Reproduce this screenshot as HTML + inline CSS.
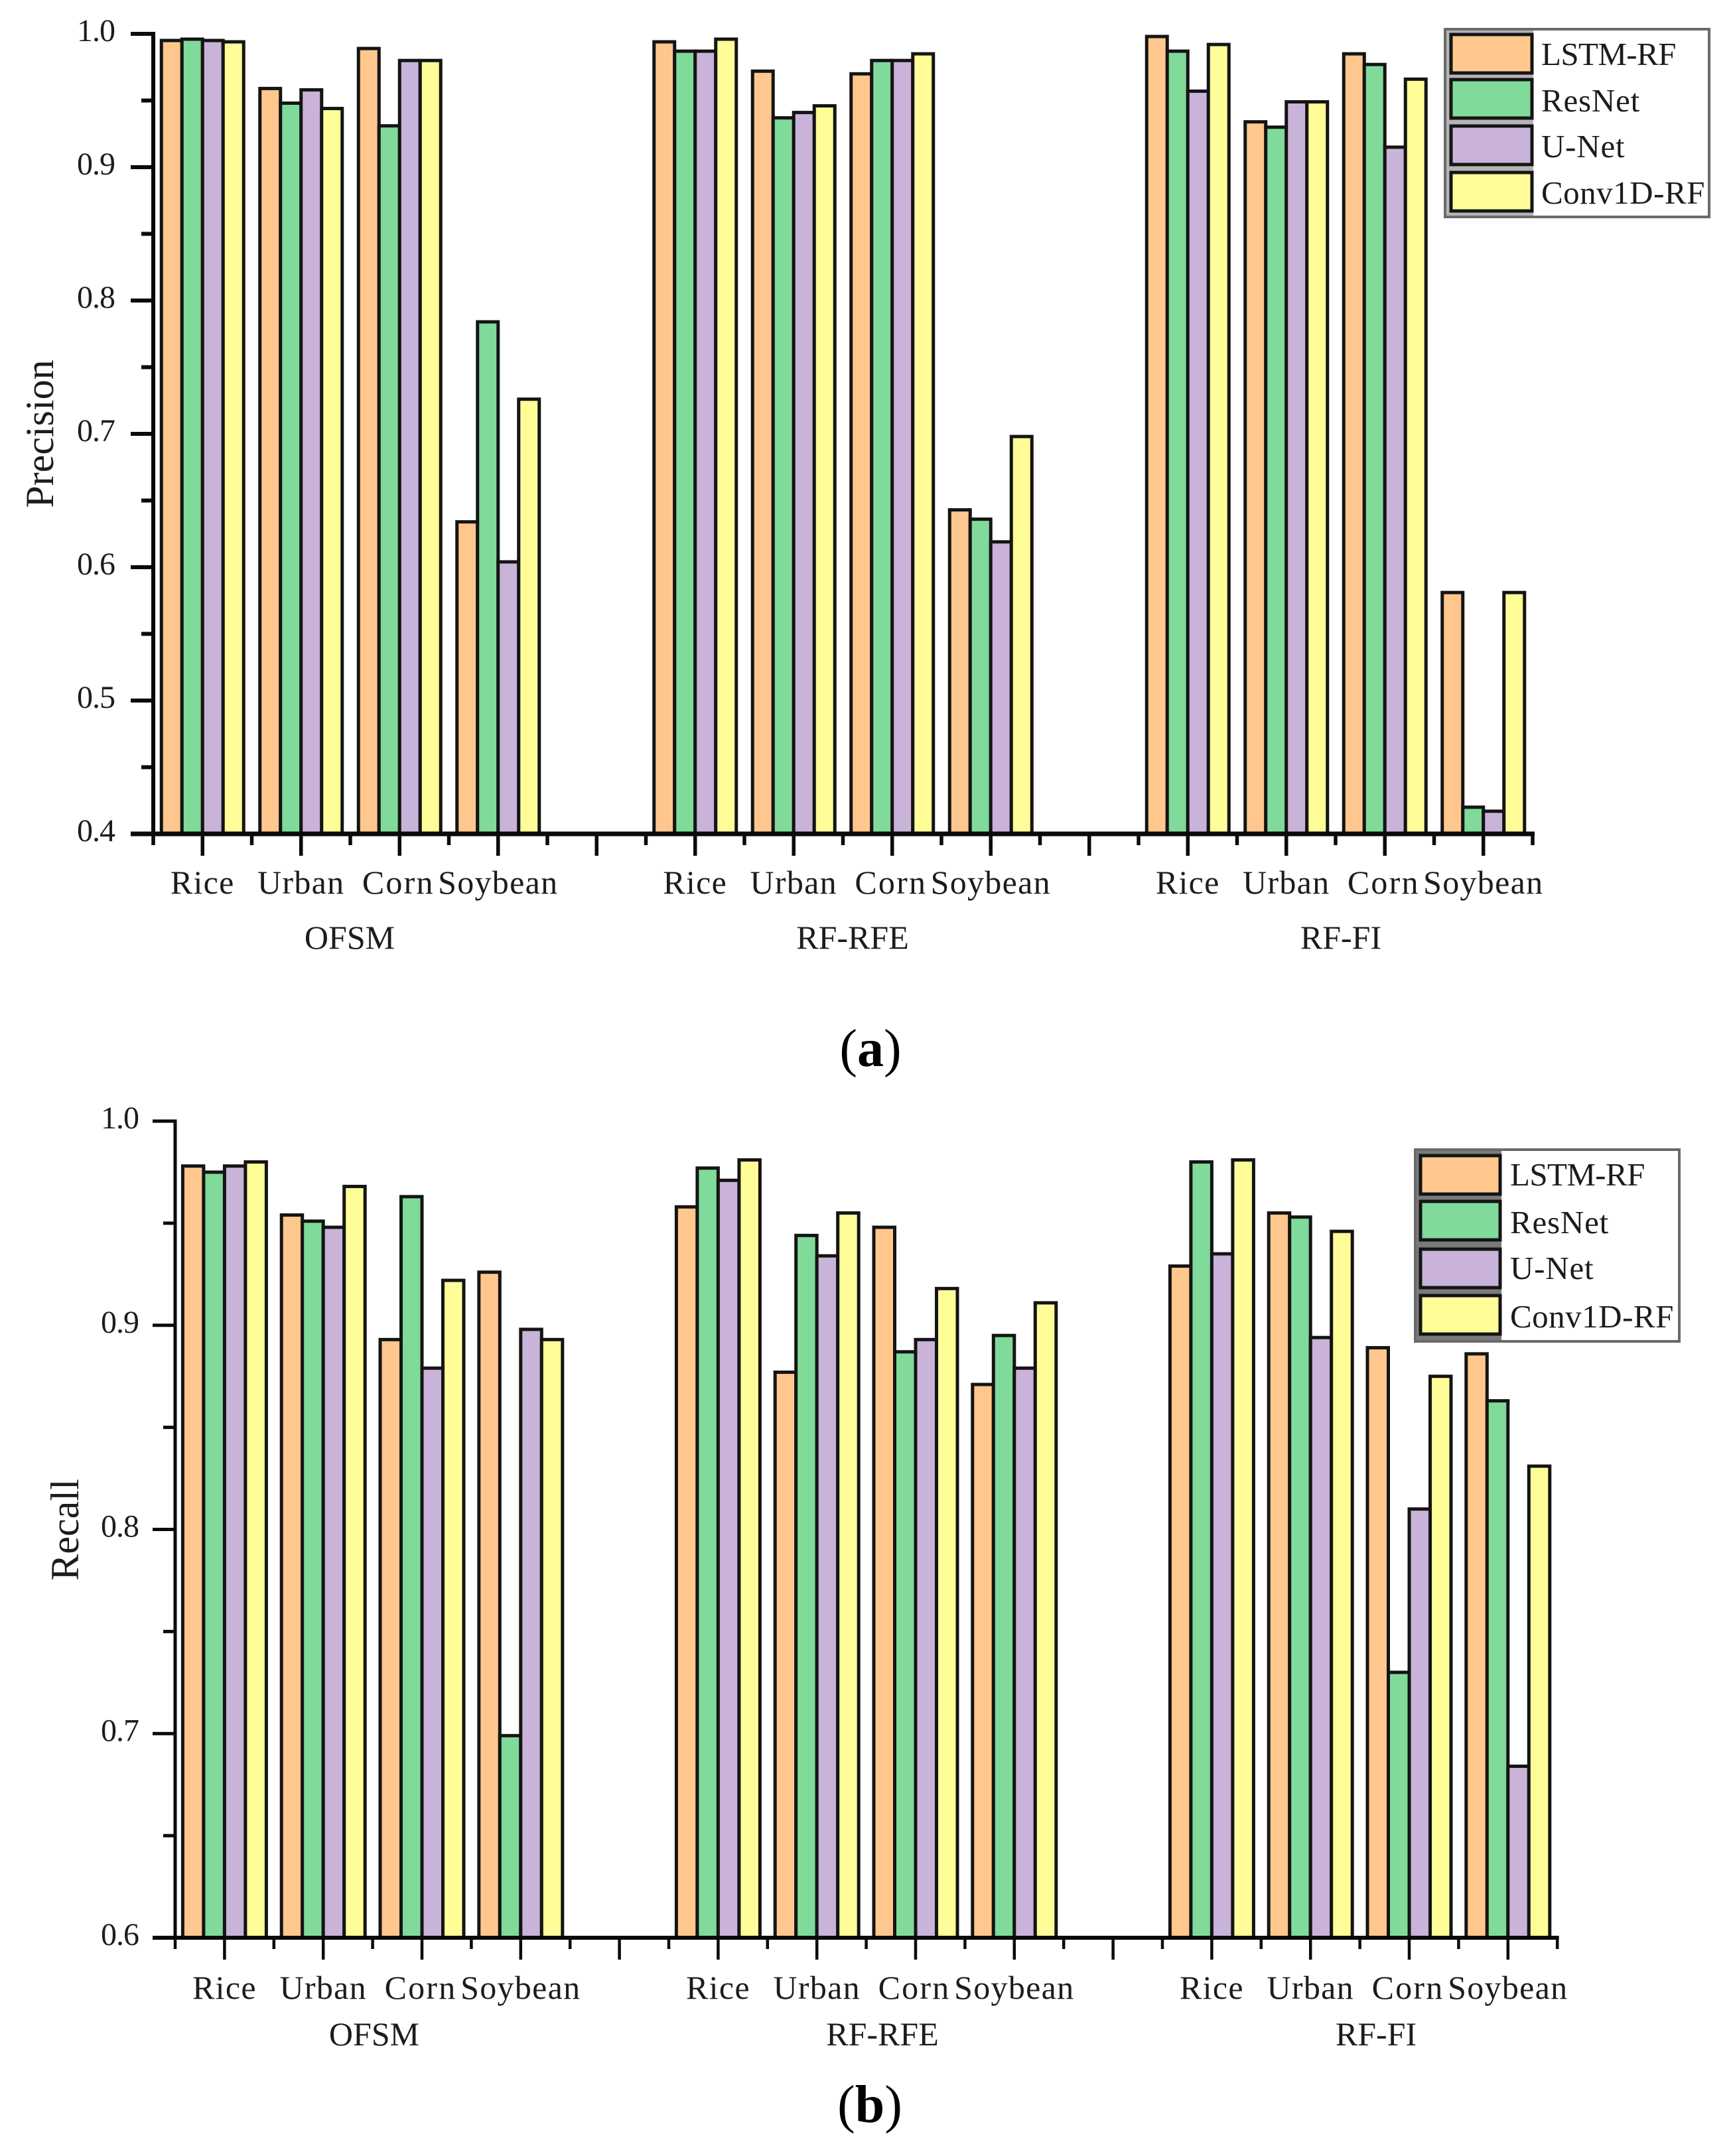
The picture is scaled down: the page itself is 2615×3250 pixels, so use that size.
<!DOCTYPE html>
<html lang="en">
<head>
<meta charset="utf-8">
<title>Precision and Recall Bar Charts</title>
<style>
html,body{margin:0;padding:0;background:#fff;}
svg{display:block;}
text{font-family:"Liberation Serif",serif;fill:#1c1c1c;}
</style>
</head>
<body>
<svg id="figure" xmlns="http://www.w3.org/2000/svg" width="2615" height="3250" viewBox="0 0 2615 3250">
<rect x="0" y="0" width="2615" height="3250" fill="#ffffff"/>
<text x="1312" y="1607" font-size="80" text-anchor="middle" style="fill:#000">(<tspan font-weight="bold">a</tspan>)</text>
<text x="1311" y="3199" font-size="80" text-anchor="middle" style="fill:#000">(<tspan font-weight="bold">b</tspan>)</text>
</svg>
<script>
const categories = ['Rice', 'Urban', 'Corn', 'Soybean'];
const methods = ['OFSM', 'RF-RFE', 'RF-FI'];
const seriesNames = ['LSTM-RF', 'ResNet', 'U-Net', 'Conv1D-RF'];
const seriesColors = ['#FFC78E', '#80DA9A', '#C9B3D9', '#FFFD98'];

const precisionLstm = [0.995, 0.959, 0.989, 0.634, 0.994, 0.972, 0.970, 0.643, 0.998, 0.934, 0.985, 0.581];
const precisionResnet = [0.996, 0.948, 0.931, 0.784, 0.987, 0.937, 0.980, 0.636, 0.987, 0.930, 0.977, 0.420];
const precisionUnet = [0.995, 0.958, 0.980, 0.604, 0.987, 0.941, 0.980, 0.619, 0.957, 0.949, 0.915, 0.417];
const precisionConv = [0.994, 0.944, 0.980, 0.726, 0.996, 0.946, 0.985, 0.698, 0.992, 0.949, 0.966, 0.581];

const recallLstm = [0.978, 0.954, 0.893, 0.926, 0.958, 0.877, 0.948, 0.871, 0.929, 0.955, 0.889, 0.886];
const recallResnet = [0.975, 0.951, 0.963, 0.699, 0.977, 0.944, 0.887, 0.895, 0.980, 0.953, 0.730, 0.863];
const recallUnet = [0.978, 0.948, 0.879, 0.898, 0.971, 0.934, 0.893, 0.879, 0.935, 0.894, 0.810, 0.684];
const recallConv = [0.980, 0.968, 0.922, 0.893, 0.981, 0.955, 0.918, 0.911, 0.981, 0.946, 0.875, 0.831];

const precisionTicks = ['0.4', '0.5', '0.6', '0.7', '0.8', '0.9', '1.0'];
const recallTicks = ['0.6', '0.7', '0.8', '0.9', '1.0'];

const svg = document.getElementById('figure');
const NS = 'http://www.w3.org/2000/svg';

function el(tag, attrs, txt) {
  const n = document.createElementNS(NS, tag);
  for (const k in attrs) n.setAttribute(k, attrs[k]);
  if (txt !== undefined) n.textContent = txt;
  svg.appendChild(n);
  return n;
}

function drawChart(c) {
  const key = c.key;
  const y = v => c.y0 - (v - c.vMin) * c.pxPerUnit;
  const x = n => c.x0 + n * c.step;
  const catSlot = i => 1 + 2 * i + 2 * Math.floor(i / 4);

  // bars
  c.series.forEach((vals, s) => {
    vals.forEach((v, i) => {
      const left = x(catSlot(i)) - 2 * c.barW + s * c.barW;
      const b = el('rect', {x: left, y: y(v), width: c.barW, height: c.y0 - y(v), fill: seriesColors[s], stroke: '#141414', 'stroke-width': 5});
      
      
    });
  });

  // y axis
  const yLine = el('line', {x1: c.x0, x2: c.x0, y1: y(c.vMax) - c.axisW / 2, y2: c.y0, stroke: '#0a0a0a', 'stroke-width': c.axisW});
  
  

  // y ticks
  c.ticks.forEach((t, i) => {
    const v = parseFloat(t);
    const tk = el('line', {x1: c.x0 - 34, x2: c.x0, y1: y(v), y2: y(v), stroke: '#0a0a0a', 'stroke-width': c.axisW});
    
    
    const lb = el('text', {x: c.x0 - c.labelGap, y: y(v) + 11, 'font-size': 48, 'text-anchor': 'end', 'letter-spacing': -1}, t);
    
    
    if (i < c.ticks.length - 1) {
      const mv = v + 0.05;
      const m = el('line', {x1: c.x0 - 18, x2: c.x0, y1: y(mv), y2: y(mv), stroke: '#0a0a0a', 'stroke-width': c.axisW});
      
      
    }
  });

  // x axis
  const xLine = el('line', {x1: c.x0 - 34, x2: x(28) + c.axisW / 2, y1: c.y0, y2: c.y0, stroke: '#0a0a0a', 'stroke-width': c.axisW + 1});
  
  

  // x ticks
  for (let n = 0; n <= 28; n++) {
    const len = n % 2 ? 33 : 17;
    const t = el('line', {x1: x(n), x2: x(n), y1: c.y0, y2: c.y0 + len, stroke: '#0a0a0a', 'stroke-width': c.axisW - 0.5});
    
    
  }

  // category labels
  for (let i = 0; i < 12; i++) {
    const lb = el('text', {x: x(catSlot(i)) - (i % 4 === 2 ? 2 : 0), y: c.catY, 'font-size': 50, 'text-anchor': 'middle', 'letter-spacing': i % 4 === 2 ? 2.2 : 1.3}, categories[i % 4]);
    
    
  }

  // method labels
  methods.forEach((m, i) => {
    const lb = el('text', {x: c.methodX[i], y: c.methodY, 'font-size': 50, 'text-anchor': 'middle'}, m);
    
    
  });

  // y title
  const title = el('text', {x: 0, y: 0, 'font-size': 60, 'text-anchor': 'middle', transform: 'translate(' + c.titleX + ' ' + c.titleY + ') rotate(-90)'}, c.title);
  
  

  // legend
  const L = c.legend;
  const frame = el('rect', {x: L.x, y: L.y, width: L.w, height: L.h, fill: '#ffffff', stroke: '#6a6a6a', 'stroke-width': 4});
  
  
  const band = el('rect', {x: L.x + 2, y: L.y + 2, width: L.swX + L.swW - L.x, height: L.h - 4, fill: L.band});
  
  
  seriesNames.forEach((name, s) => {
    const sw = el('rect', {x: L.swX, y: L.swY[s], width: L.swW, height: L.swH, fill: seriesColors[s], stroke: '#141414', 'stroke-width': 5});
    
    
    const tx = el('text', {x: L.txX, y: L.txY[s], 'font-size': 49, 'letter-spacing': L.spacing[s]}, name);
    
    
  });
}

drawChart({
  key: 'precision', title: 'Precision',
  x0: 231, step: 74.25, y0: 1257, vMin: 0.4, vMax: 1.0, pxPerUnit: 2010,
  barW: 31, axisW: 6, labelGap: 58,
  ticks: precisionTicks,
  series: [precisionLstm, precisionResnet, precisionUnet, precisionConv],
  catY: 1347, methodY: 1430, methodX: [527, 1285, 2021],
  titleX: 80, titleY: 654,
  legend: {x: 2178, y: 44, w: 398, h: 283, swX: 2187, swW: 122, swH: 58, swY: [52, 120, 190, 260], txX: 2323, txY: [98, 168, 237, 307], band: '#b4b4b4', spacing: [-0.6, 0.8, 0.8, 0.5]}
});

drawChart({
  key: 'recall', title: 'Recall',
  x0: 264, step: 74.4, y0: 2921, vMin: 0.6, vMax: 1.0, pxPerUnit: 3077.5,
  barW: 31.5, axisW: 5, labelGap: 55,
  ticks: recallTicks,
  series: [recallLstm, recallResnet, recallUnet, recallConv],
  catY: 3013, methodY: 3083, methodX: [564, 1330, 2074],
  titleX: 118, titleY: 2306,
  legend: {x: 2133, y: 1733, w: 398, h: 289, swX: 2141, swW: 120, swH: 58, swY: [1742, 1811, 1883, 1953], txX: 2276, txY: [1787, 1859, 1928, 2001], band: '#7a7a7a', spacing: [-0.6, 0.8, 0.8, 0.5]}
});
</script>
</body>
</html>
